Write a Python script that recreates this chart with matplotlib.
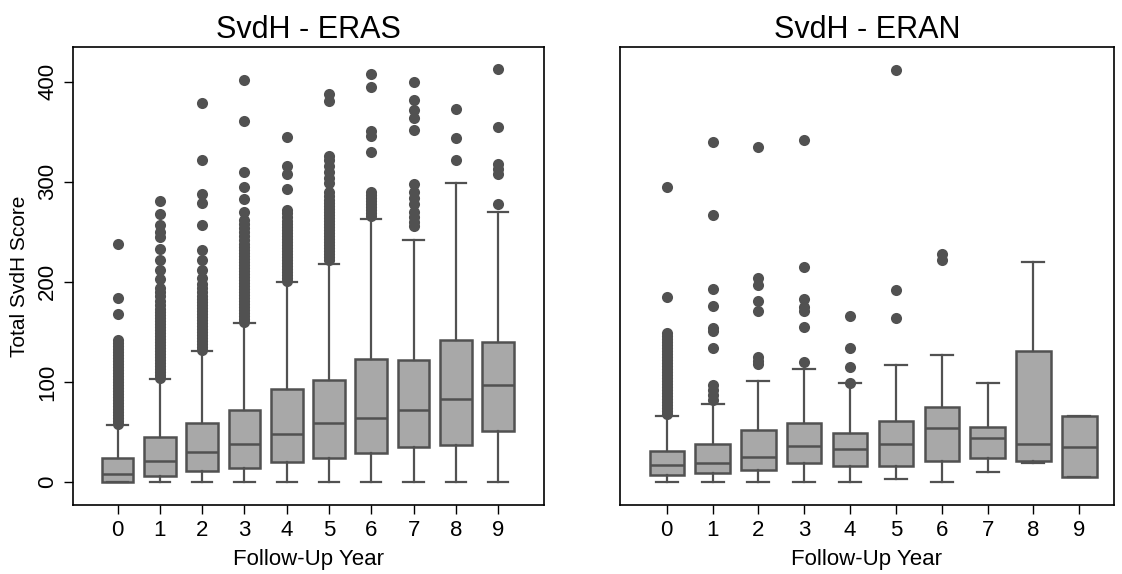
import matplotlib.pyplot as plt

plt.rcParams['font.family'] = ['Liberation Sans', 'DejaVu Sans']

years = [0, 1, 2, 3, 4, 5, 6, 7, 8, 9]
titles = ["SvdH - ERAS", "SvdH - ERAN"]

# ERAS box statistics per follow-up year
eras_q1 = [0, 6, 11, 14, 20, 24, 29, 35, 37, 51]
eras_med = [8, 21, 30, 38, 48, 59, 64, 72, 83, 97]
eras_q3 = [24, 45, 59, 72, 93, 102, 123, 122, 142, 140]
eras_lo = [0, 0, 0, 0, 0, 0, 0, 0, 0, 0]
eras_hi = [57, 103, 131, 159, 200, 218, 263, 242, 299, 270]
eras_out = [
    [58, 61, 64, 67, 70, 73, 76, 79, 82, 85, 88, 91, 94, 97, 100, 103, 106,
     109, 112, 115, 118, 121, 124, 127, 130, 133, 136, 139, 142, 168, 184, 238],
    [104, 107, 110, 113, 116, 119, 122, 125, 128, 131, 134, 137, 140, 143,
     146, 149, 152, 155, 158, 161, 164, 167, 170, 173, 177, 181, 186, 190,
     194, 203, 212, 222, 233, 245, 250, 257, 268, 281],
    [132, 135, 138, 141, 144, 147, 150, 153, 156, 159, 162, 165, 168, 171,
     174, 177, 180, 183, 186, 190, 194, 198, 204, 212, 222, 232, 257, 279,
     288, 322, 379],
    [160, 163, 166, 169, 172, 175, 178, 181, 184, 187, 190, 193, 196, 199,
     202, 205, 208, 211, 214, 217, 220, 223, 226, 229, 232, 235, 238, 242,
     246, 250, 254, 258, 262, 270, 283, 295, 310, 361, 402],
    [201, 204, 207, 210, 213, 216, 219, 222, 225, 228, 231, 234, 237, 240,
     243, 246, 249, 252, 255, 258, 261, 265, 269, 272, 293, 308, 316, 345],
    [222, 225, 228, 231, 234, 237, 240, 243, 246, 249, 252, 255, 258, 261,
     264, 267, 270, 273, 276, 279, 282, 286, 290, 299, 304, 310, 316, 322,
     326, 381, 388],
    [266, 269, 272, 275, 278, 281, 284, 287, 290, 330, 346, 351, 395, 408],
    [256, 260, 265, 270, 278, 284, 290, 298, 352, 364, 372, 382, 400],
    [322, 344, 373],
    [278, 308, 313, 318, 355, 413],
]

# ERAN box statistics per follow-up year
eran_q1 = [7, 9, 12, 19, 16, 16, 21, 24, 21, 5]
eran_med = [17, 19, 25, 36, 33, 38, 54, 44, 38, 35]
eran_q3 = [31, 38, 52, 59, 49, 61, 75, 55, 131, 66]
eran_lo = [0, 0, 0, 0, 0, 3, 0, 10, 19, 5]
eran_hi = [66, 78, 101, 113, 99, 117, 127, 99, 220, 66]
eran_out = [
    [68, 71, 74, 77, 80, 83, 86, 89, 92, 95, 98, 101, 104, 107, 110, 113,
     116, 119, 122, 125, 128, 131, 134, 137, 140, 143, 146, 149, 185, 295],
    [82, 87, 92, 97, 134, 151, 154, 176, 193, 267, 340],
    [118, 121, 125, 171, 181, 197, 204, 335],
    [120, 155, 171, 175, 183, 215, 342],
    [99, 115, 134, 166],
    [164, 192, 412],
    [222, 228],
    [],
    [],
    [],
]

fill = '#a8a8a8'
edge = '#515151'


def box_stats(q1, med, q3, lo, hi, out):
    return [dict(q1=a, med=b, q3=c, whislo=d, whishi=e, fliers=f)
            for a, b, c, d, e, f in zip(q1, med, q3, lo, hi, out)]


fig = plt.figure(figsize=(11.22, 5.74), dpi=100)
ax1 = fig.add_axes([0.0648, 0.1202, 0.4203, 0.7984])
ax2 = fig.add_axes([0.5526, 0.1202, 0.4400, 0.7984], sharey=ax1)

panels = [
    (ax1, box_stats(eras_q1, eras_med, eras_q3, eras_lo, eras_hi, eras_out)),
    (ax2, box_stats(eran_q1, eran_med, eran_q3, eran_lo, eran_hi, eran_out)),
]

for (ax, stats), title in zip(panels, titles):
    ax.bxp(stats, positions=years, widths=0.75, capwidths=0.48,
           patch_artist=True, manage_ticks=False,
           boxprops=dict(facecolor=fill, edgecolor=edge, linewidth=1.8),
           medianprops=dict(color=edge, linewidth=1.8),
           whiskerprops=dict(color=edge, linewidth=1.6),
           capprops=dict(color=edge, linewidth=1.6),
           flierprops=dict(marker='o', markersize=8, markerfacecolor=edge,
                           markeredgecolor='none'))
    ax.set_xticks(years)
    ax.set_xlabel("Follow-Up Year", fontsize=16, labelpad=6)
    ax.set_title(title, fontsize=22, pad=6)
    ax.tick_params(length=6.5, width=1.0, labelsize=16, pad=4)
    for s in ax.spines.values():
        s.set_linewidth(1.2)

ax1.set_xlim(-1.06, 10.09)
ax2.set_xlim(-1.02, 9.75)
ax1.set_ylim(-23, 435)
ax1.set_yticks([0, 100, 200, 300, 400])
plt.setp(ax1.get_yticklabels(), rotation=90, va='center')
ax1.set_ylabel("Total SvdH Score", fontsize=15, labelpad=6)
ax2.tick_params(axis='y', left=False, labelleft=False)

fig.savefig('out.png', dpi=100)
